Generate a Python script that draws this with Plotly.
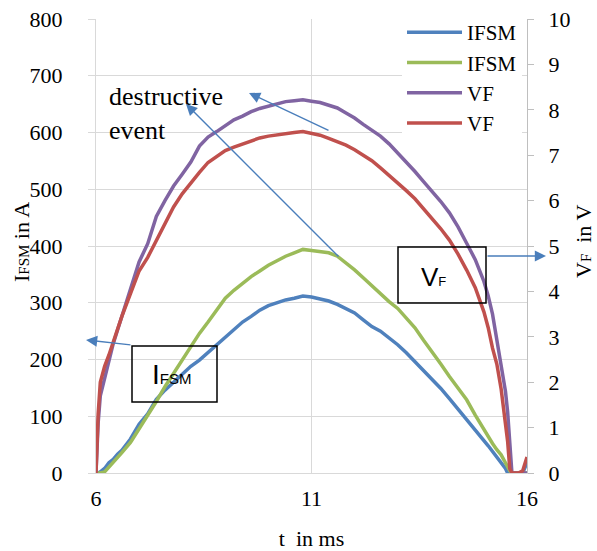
import plotly.graph_objects as go

# ---------------- data ----------------
t_ms = [6.00, 6.02, 6.05, 6.10, 6.20, 6.30, 6.40, 6.50, 6.60, 6.80,
        7.00, 7.20, 7.40, 7.60, 7.80, 8.00, 8.20, 8.40, 8.60, 8.80,
        9.00, 9.20, 9.40, 9.60, 9.80, 10.00, 10.20, 10.40, 10.60, 10.80,
        11.00, 11.20, 11.40, 11.60, 11.80, 12.00, 12.20, 12.40, 12.60, 12.80,
        13.00, 13.20, 13.40, 13.60, 13.80, 14.00, 14.20, 14.40, 14.60, 14.80,
        15.00, 15.10, 15.20, 15.30, 15.40, 15.50, 15.55, 15.60, 15.65, 15.70,
        15.80, 15.90, 16.00]

ifsm_blue = [0, 0, 0, 2, 8, 18, 24, 33, 40, 60,
             86, 104, 130, 146, 160, 174, 188, 199, 212, 225,
             238, 252, 266, 276, 287, 295, 300, 305, 308, 312,
             310, 307, 303, 297, 290, 282, 270, 258, 250, 238,
             226, 212, 196, 181, 166, 149, 131, 112, 94, 76,
             57, 48, 38, 28, 20, 8, 0, 0, 0, 0,
             0, 0, 18]

ifsm_green = [0, 0, 0, 0, 2, 10, 18, 28, 36, 54,
              78, 100, 126, 152, 176, 200, 224, 246, 266, 288,
              308, 322, 334, 346, 356, 366, 374, 382, 388, 394,
              392, 390, 388, 382, 370, 358, 344, 330, 314, 302,
              290, 274, 256, 234, 214, 192, 170, 150, 129, 102,
              76, 65, 52, 41, 32, 18, 10, 4, 0, 0,
              0, 0, 0]

vf_purple = [0, 0.5, 1.1, 1.7, 2.1, 2.5, 2.85, 3.15, 3.45, 4.0,
             4.65, 5.05, 5.65, 6.0, 6.32, 6.58, 6.85, 7.2, 7.4, 7.52,
             7.66, 7.78, 7.86, 7.96, 8.03, 8.08, 8.14, 8.18, 8.2, 8.22,
             8.19, 8.16, 8.1, 8.04, 7.93, 7.82, 7.68, 7.56, 7.42, 7.25,
             7.05, 6.86, 6.64, 6.42, 6.2, 5.98, 5.73, 5.42, 5.06, 4.7,
             4.22, 3.9, 3.5, 2.95, 2.4, 1.8, 1.35, 0.7, 0, 0,
             0, 0, 0]

vf_red = [0, 0.6, 1.3, 2.0, 2.35, 2.6, 2.9, 3.2, 3.45, 3.95,
          4.45, 4.75, 5.12, 5.5, 5.86, 6.15, 6.4, 6.62, 6.84, 6.98,
          7.1, 7.18, 7.25, 7.33, 7.38, 7.42, 7.45, 7.48, 7.5, 7.52,
          7.48, 7.44, 7.37, 7.3, 7.22, 7.12, 7.0, 6.88, 6.72, 6.56,
          6.4, 6.22, 6.04, 5.82, 5.6, 5.38, 5.13, 4.82, 4.47, 4.08,
          3.55, 3.2, 2.75, 2.4, 1.85, 1.15, 0.7, 0.1, 0, 0,
          0, 0.05, 0.35]

x_ticks = [6, 11, 16]
series_names = ["IFSM", "IFSM", "VF", "VF"]

# ---------------- layout helpers (pixel -> paper) ----------------
W, H = 597, 551
PL, PR, PT, PB = 96, 527, 19, 473


def px(X):
    return (X - PL) / (PR - PL)


def py(Y):
    return (PB - Y) / (PB - PT)


SERIF = "Liberation Serif"
SANS = "Liberation Sans"
GRID = "#D9D9D9"
AXIS = "#BFBFBF"
ARROW = "#4A7EBB"
TICKFONT = dict(family=SERIF, size=22, color="black")
TITLEFONT = dict(family=SERIF, size=22, color="black")

fig = go.Figure()
fig.add_trace(go.Scatter(x=t_ms, y=ifsm_blue, name=series_names[0], mode="lines",
                         line=dict(color="#4F81BD", width=3.5)))
fig.add_trace(go.Scatter(x=t_ms, y=ifsm_green, name=series_names[1], mode="lines",
                         line=dict(color="#9BBB59", width=3.5)))
fig.add_trace(go.Scatter(x=t_ms, y=vf_purple, name=series_names[2], mode="lines",
                         line=dict(color="#8064A2", width=3.5), yaxis="y2"))
fig.add_trace(go.Scatter(x=t_ms, y=vf_red, name=series_names[3], mode="lines",
                         line=dict(color="#C0504D", width=3.5), yaxis="y2"))

fig.update_layout(
    width=W, height=H,
    margin=dict(l=PL, r=W - PR, t=PT, b=H - PB, pad=0, autoexpand=False),
    plot_bgcolor="white", paper_bgcolor="white",
    font=dict(family=SERIF, size=22, color="black"),
    showlegend=True,
    legend=dict(x=px(402), y=py(12), xanchor="left", yanchor="top",
                bgcolor="white", borderwidth=0, tracegroupgap=0,
                font=dict(family=SERIF, size=21, color="black"), itemwidth=55),
    xaxis=dict(range=[6, 16], tickvals=x_ticks, ticktext=[str(v) for v in x_ticks],
               showgrid=True, gridcolor=GRID, gridwidth=1, zeroline=False,
               showline=True, linecolor=GRID, ticks="", ticklabelstandoff=6,
               tickfont=TICKFONT, automargin=False,
               title=dict(text="t  in ms", standoff=23, font=TITLEFONT)),
    yaxis=dict(range=[0, 800], dtick=100, showgrid=True, gridcolor=GRID, gridwidth=1,
               zeroline=False, showline=True, linecolor=GRID, ticks="outside",
               ticklen=7, tickcolor=GRID, ticklabelstandoff=21,
               tickfont=TICKFONT, automargin=False),
    yaxis2=dict(range=[0, 10], dtick=1, overlaying="y", side="right", showgrid=False,
                zeroline=False, showline=True, linecolor=AXIS, ticks="outside",
                ticklen=6, tickcolor=AXIS, ticklabelstandoff=10,
                tickfont=TICKFONT, automargin=False),
)

# y axis titles as rotated annotations
fig.add_annotation(xref="paper", yref="paper", x=px(21), y=py(242), showarrow=False,
                   textangle=-90, xanchor="center", yanchor="middle",
                   text="I<span style='font-size:15px'>FSM</span> in A", font=TITLEFONT)
fig.add_annotation(xref="paper", yref="paper", x=px(583), y=py(242), showarrow=False,
                   textangle=-90, xanchor="center", yanchor="middle",
                   text="V<span style='font-size:15px'>F</span>  in V", font=TITLEFONT)

# boxes
fig.add_shape(type="rect", xref="paper", yref="paper",
              x0=px(132), x1=px(217), y0=py(402), y1=py(346),
              line=dict(color="black", width=1.5))
fig.add_shape(type="rect", xref="paper", yref="paper",
              x0=px(398), x1=px(486), y0=py(303), y1=py(247),
              line=dict(color="black", width=1.5))

# box labels
fig.add_annotation(xref="paper", yref="paper", x=px(150), y=py(374), showarrow=False,
                   xanchor="left", yanchor="middle",
                   text="I<span style='font-size:15px'>FSM</span>",
                   font=dict(family=SANS, size=28, color="black"))
fig.add_annotation(xref="paper", yref="paper", x=px(419), y=py(277), showarrow=False,
                   xanchor="left", yanchor="middle",
                   text="V<span style='font-size:13px'>F</span>",
                   font=dict(family=SANS, size=26, color="black"))

fig.add_annotation(xref="paper", yref="paper", x=px(107), y=py(80), showarrow=False,
                   xanchor="left", yanchor="top", align="left",
                   text="destructive<br>event", font=dict(family=SERIF, size=26, color="black"))

arrows = [((249, 93), (81, 38)), ((186, 104), (154, 154)),
          ((86, 340), (46, 5)), ((546, 256), (-60, 0))]
for (hx, hy), (dx, dy) in arrows:
    fig.add_annotation(xref="paper", yref="paper", x=px(hx), y=py(hy), text="",
                       showarrow=True, ax=dx, ay=dy, arrowhead=2, arrowsize=1.6,
                       arrowwidth=1.4, arrowcolor=ARROW, standoff=0)

fig.write_html("out.html", config={"displayModeBar": False},
               post_script="document.body.style.margin='0px';")
